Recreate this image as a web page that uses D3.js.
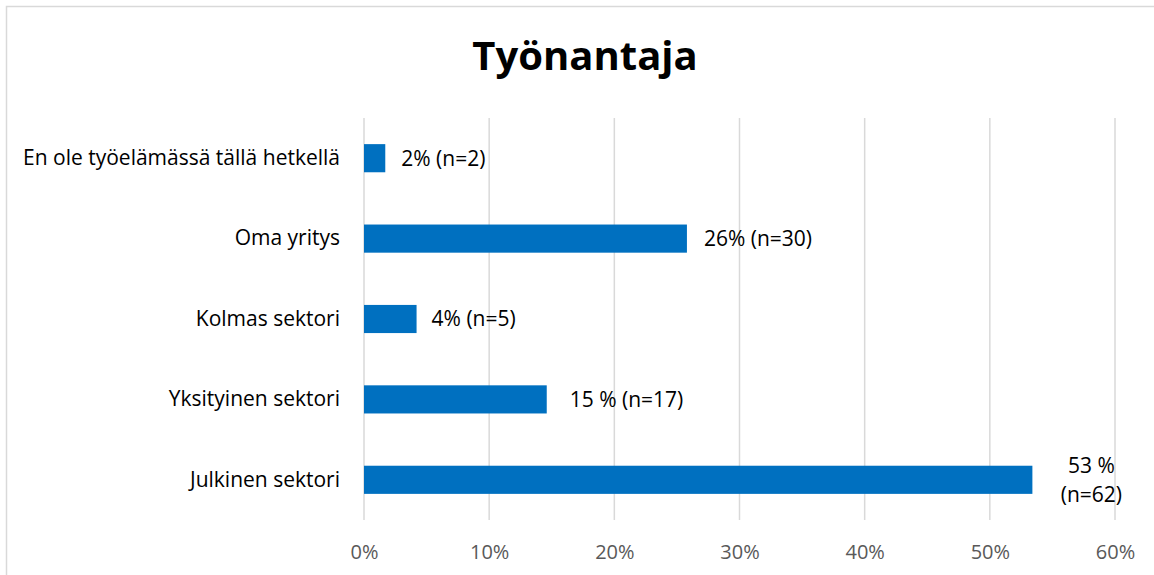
<!DOCTYPE html>
<html><head><meta charset="utf-8">
<script src="https://cdn.jsdelivr.net/npm/d3@7"></script>
<style>body{margin:0;background:#fff}svg{display:block}</style>
</head><body>
<script>
const categories = ["En ole työelämässä tällä hetkellä","Oma yritys","Kolmas sektori","Yksityinen sektori","Julkinen sektori"];
const values = [1.7, 25.8, 4.2, 14.6, 53.4];
const valueLabels = [["2% (n=2)"],["26% (n=30)"],["4% (n=5)"],["15 % (n=17)"],["53 %","(n=62)"]];
const tickValues = [0,10,20,30,40,50,60];
const title = "Työnantaja";

const W=1154,H=575;
const svg=d3.select("body").append("svg").attr("width",W).attr("height",H);
const font="'Open Sans', sans-serif";
svg.append("rect").attr("x",6.5).attr("y",6.5).attr("width",W).attr("height",H).attr("fill","none").attr("stroke","#d9d9d9").attr("stroke-width",1.5);

const m={left:364,right:1115,top:118,bottom:520};
const x=d3.scaleLinear().domain([0,60]).range([m.left,m.right]);
const y=d3.scaleBand().domain(categories).range([m.top,m.bottom]).paddingInner(0.65).paddingOuter(0.325);

svg.append("g").selectAll("line").data(tickValues).join("line")
 .attr("x1",d=>x(d)).attr("x2",d=>x(d)).attr("y1",m.top).attr("y2",m.bottom)
 .attr("stroke","#d9d9d9").attr("stroke-width",1.5);

const xa=svg.append("g").attr("transform",`translate(0,${m.bottom})`)
 .call(d3.axisBottom(x).tickValues(tickValues).tickFormat(d=>d+"%").tickSize(0).tickPadding(25));
xa.select(".domain").remove();
xa.selectAll("text").attr("font-family",font).attr("font-size",20).attr("fill","#595959");

const ya=svg.append("g").attr("transform",`translate(${m.left-24},0)`)
 .call(d3.axisLeft(y).tickSize(0).tickPadding(0));
ya.select(".domain").remove();
ya.selectAll("text").attr("font-family",font).attr("font-size",21).attr("fill","#000");

svg.append("g").selectAll("rect").data(values).join("rect")
 .attr("x",x(0)).attr("y",(d,i)=>y(categories[i])).attr("width",d=>x(d)-x(0)).attr("height",y.bandwidth())
 .attr("fill","#0070C0");

const dx=[16,17,15,23,0];
const lg=svg.append("g").attr("font-family",font).attr("font-size",21).attr("fill","#000");
valueLabels.forEach((lab,i)=>{
  const cy=y(categories[i])+y.bandwidth()/2;
  if(lab.length===1){
    lg.append("text").attr("x",x(values[i])+dx[i]).attr("y",cy).attr("dy","0.35em").text(lab[0]);
  } else {
    const cx=x(values[i])+59;
    const t=lg.append("text").attr("text-anchor","middle").attr("x",cx).attr("y",cy-14);
    lab.forEach((s,j)=>t.append("tspan").attr("x",cx).attr("dy",j?"1.35em":"0.35em").text(s));
  }
});

svg.append("text").attr("x",585).attr("y",70).attr("text-anchor","middle")
 .attr("font-family",font).attr("font-weight","bold").attr("font-size",40).text(title);
</script>
</body></html>
